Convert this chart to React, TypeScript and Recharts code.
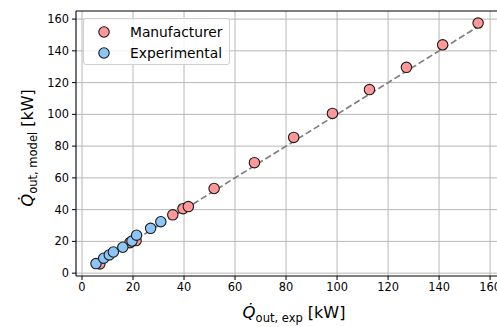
import {
  ComposedChart,
  Scatter,
  XAxis,
  YAxis,
  CartesianGrid,
  ReferenceLine,
} from "recharts";

const manufacturerExp = [7.0, 18.8, 21.2, 35.6, 39.6, 41.7, 51.8, 67.6, 83.0, 98.2, 112.7, 127.2, 141.4, 155.3];
const manufacturerModel = [5.8, 19.2, 20.5, 36.7, 40.6, 41.9, 53.3, 69.6, 85.5, 100.6, 115.6, 129.6, 143.8, 157.5];

const experimentalExp = [5.5, 8.5, 10.7, 12.3, 16.0, 19.6, 21.4, 26.9, 30.9];
const experimentalModel = [6.0, 9.4, 11.5, 13.3, 16.3, 20.2, 23.9, 28.2, 32.4];

// y = x reference, spanning the measured range
const parityEnds = [5.5, 155.3];

const xTicks = [0, 20, 40, 60, 80, 100, 120, 140, 160];
const yTicks = [0, 20, 40, 60, 80, 100, 120, 140, 160];

const RED = "#ff9896";
const BLUE = "#8cc6f7";
const FONT = "'DejaVu Sans', sans-serif";

const toPoints = (xs: number[], ys: number[]) => xs.map((x, i) => ({ x, y: ys[i] }));
const manufacturer = toPoints(manufacturerExp, manufacturerModel);
const experimental = toPoints(experimentalExp, experimentalModel);
const parity = parityEnds.map((v) => ({ x: v, y: v }));

const Dot = (fill: string) => (p: any) => (
  <circle cx={p.cx} cy={p.cy} r={5.2} fill={fill} stroke="#1a1a1a" strokeWidth={1.1} />
);

const XLabel = () => (
  <text x={294} y={318} textAnchor="middle" fontFamily={FONT} fill="#000">
    <tspan fontSize={16.5} fontStyle="italic">Q̇</tspan>
    <tspan fontSize={11.5} dy={4}>out, exp</tspan>
    <tspan fontSize={16} dy={-4}> [kW]</tspan>
  </text>
);

const YLabel = () => (
  <text
    x={0}
    y={0}
    transform="translate(33,148) rotate(-90)"
    textAnchor="middle"
    fontFamily={FONT}
    fill="#000"
  >
    <tspan fontSize={16.5} fontStyle="italic">Q̇</tspan>
    <tspan fontSize={11.5} dy={4}>out, model</tspan>
    <tspan fontSize={16} dy={-4}> [kW]</tspan>
  </text>
);

const legendItems = [
  { name: "Manufacturer", fill: RED },
  { name: "Experimental", fill: BLUE },
];

const LegendBox = () => (
  <div
    style={{
      position: "absolute",
      left: 83,
      top: 18,
      width: 147,
      height: 47,
      boxSizing: "border-box",
      border: "1px solid #d0d0d0",
      borderRadius: 3,
      background: "rgba(255,255,255,0.8)",
      fontFamily: FONT,
      fontSize: 13.8,
      color: "#000",
      paddingTop: 3,
    }}
  >
    {legendItems.map((item) => (
      <div key={item.name} style={{ display: "flex", alignItems: "center", height: 20.5 }}>
        <svg width={46} height={20}>
          <circle cx={20} cy={10} r={5.2} fill={item.fill} stroke="#1a1a1a" strokeWidth={1.1} />
        </svg>
        <span>{item.name}</span>
      </div>
    ))}
  </div>
);

export default function App() {
  return (
    <div style={{ position: "absolute", left: 0, top: 0, width: 497, height: 327, overflow: "hidden", background: "#fff" }}>
      <ComposedChart
        width={499}
        height={327}
        margin={{ top: 11, right: 1, bottom: 0, left: 0 }}
      >
        <CartesianGrid stroke="#b8b8b8" strokeWidth={1} horizontalValues={yTicks} verticalValues={xTicks} />
        <XAxis
          type="number"
          dataKey="x"
          domain={[-2.35, 163.1]}
          ticks={xTicks}
          allowDataOverflow
          height={51}
          tickSize={4}
          tickMargin={3}
          tickLine={{ stroke: "#000" }}
          axisLine={{ stroke: "#000", strokeWidth: 1.1 }}
          tick={{ fill: "#000", fontSize: 11.4, fontFamily: FONT }}
          label={<XLabel />}
        />
        <YAxis
          type="number"
          dataKey="y"
          domain={[-1.8, 165.1]}
          ticks={yTicks}
          allowDataOverflow
          width={76}
          tickSize={4}
          tickMargin={3}
          tickLine={{ stroke: "#000" }}
          axisLine={{ stroke: "#000", strokeWidth: 1.1 }}
          tick={{ fill: "#000", fontSize: 11.4, fontFamily: FONT }}
          label={<YLabel />}
        />
        <ReferenceLine y={165.1} stroke="#000" strokeWidth={1.1} />
        <Scatter
          data={parity}
          line={{ stroke: "#808080", strokeWidth: 1.7, strokeDasharray: "6.5 3" }}
          shape={() => <g />}
          isAnimationActive={false}
        />
        <Scatter name="Manufacturer" data={manufacturer} shape={Dot(RED)} isAnimationActive={false} />
        <Scatter name="Experimental" data={experimental} shape={Dot(BLUE)} isAnimationActive={false} />
      </ComposedChart>
      <LegendBox />
    </div>
  );
}
